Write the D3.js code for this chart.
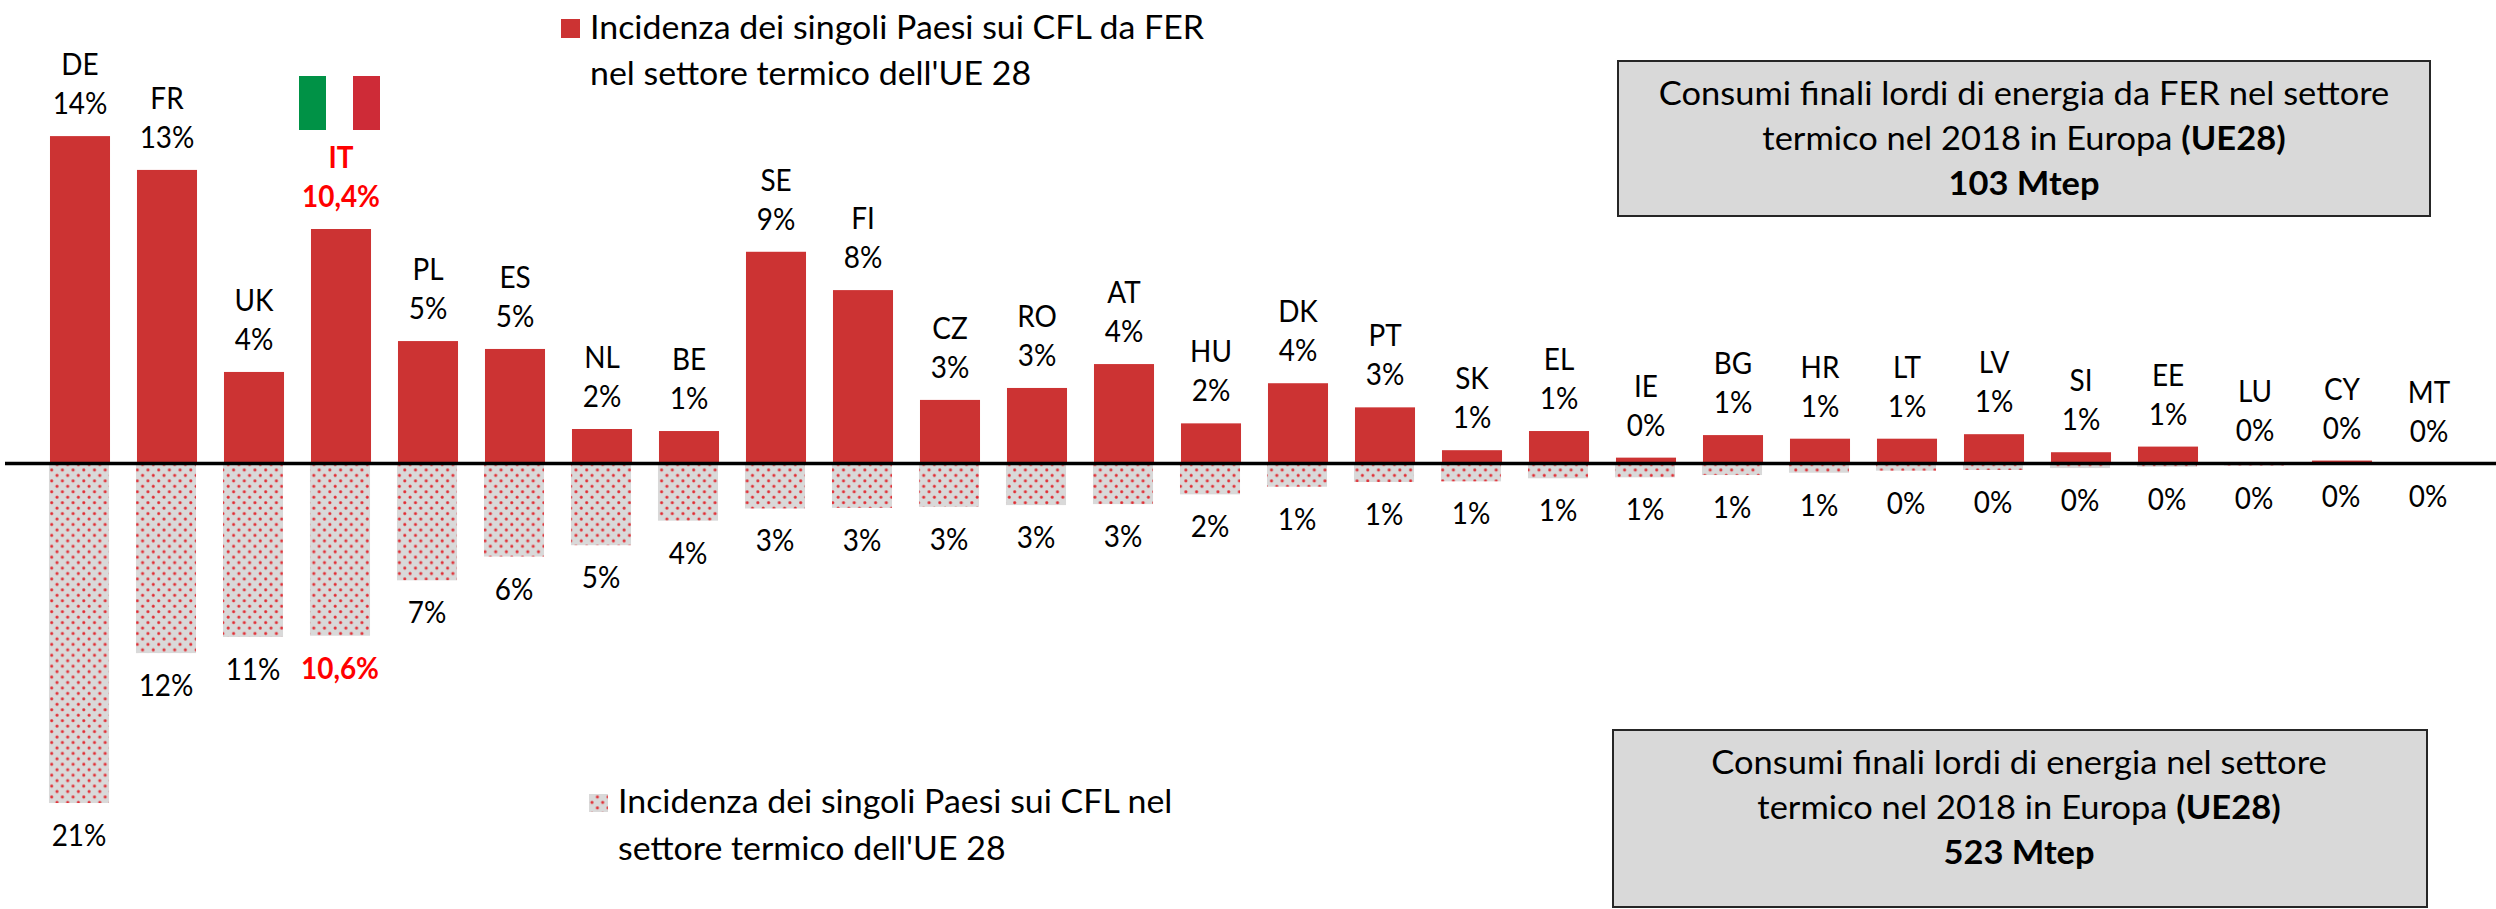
<!DOCTYPE html>
<html>
<head>
<meta charset="utf-8">
<script src="https://cdn.jsdelivr.net/npm/d3@7"></script>
<style>
  html, body { margin: 0; background: #fff; }
  svg { display: block; }
  text { font-family: Lato, "Open Sans", sans-serif; fill: #000; }
</style>
</head>
<body>
<div id="canvas-svg"></div>
<script>
// values, % share of each country
var countries = ["DE","FR","UK","IT","PL","ES","NL","BE","SE","FI","CZ","RO","AT","HU","DK","PT","SK","EL","IE","BG","HR","LT","LV","SI","EE","LU","CY","MT"];
var ferValues = [14.52,13.02,4.06,10.4,5.43,5.08,1.53,1.44,9.39,7.69,2.82,3.35,4.41,1.78,3.56,2.49,0.59,1.44,0.26,1.26,1.1,1.1,1.3,0.5,0.75,0.03,0.13,0];
var cflValues = [20.9,11.67,10.68,10.6,7.19,5.73,5.03,3.52,2.77,2.73,2.67,2.56,2.5,1.9,1.43,1.14,1.1,0.91,0.85,0.71,0.57,0.44,0.4,0.28,0.2,0.13,0.02,0];
var ferLabels = ["14%","13%","4%","10,4%","5%","5%","2%","1%","9%","8%","3%","3%","4%","2%","4%","3%","1%","1%","0%","1%","1%","1%","1%","1%","1%","0%","0%","0%"];
var cflLabels = ["21%","12%","11%","10,6%","7%","6%","5%","4%","3%","3%","3%","3%","3%","2%","1%","1%","1%","1%","1%","1%","1%","0%","0%","0%","0%","0%","0%","0%"];
var legendFer = ["Incidenza dei singoli Paesi sui CFL da FER", "nel settore termico dell'UE 28"];
var legendCfl = ["Incidenza dei singoli Paesi sui CFL nel", "settore termico dell'UE 28"];
var boxFer = ["Consumi finali lordi di energia da FER nel settore", "termico nel 2018 in Europa ", "(UE28)", "103 Mtep"];
var boxCfl = ["Consumi finali lordi di energia nel settore", "termico nel 2018 in Europa ", "(UE28)", "523 Mtep"];

var WIDTH = 2496, HEIGHT = 909;
var ZERO = 463.5;
// Lato has other proportions than the original font, so each kind of text gets its own squeeze
var LABEL = {size: 31, sx: 0.9};
var LEGEND = {size: 32, sx: 1.06};
var BOX = {size: 33, sx: 1.045};

var svg = d3.select("#canvas-svg").append("svg")
    .attr("width", WIDTH)
    .attr("height", HEIGHT);

var x = d3.scaleBand()
    .domain(countries)
    .range([36.5, 2472.5])
    .paddingInner(0.31)
    .paddingOuter(0.155);

// the two halves do not share a scale in the original
var yFer = d3.scaleLinear().domain([0, 10.4]).range([ZERO, 229]);
var yCfl = d3.scaleLinear().domain([0, 10.6]).range([ZERO, 635.7]);

//dotted fill
var defs = svg.append("defs");
var grad = defs.append("radialGradient").attr("id", "dot");
grad.append("stop").attr("offset", "0%").attr("stop-color", "#e0222c");
grad.append("stop").attr("offset", "45%").attr("stop-color", "#e0363c");
grad.append("stop").attr("offset", "100%").attr("stop-color", "#d9d9d9");

var pattern = defs.append("pattern")
    .attr("id", "dots")
    .attr("patternUnits", "userSpaceOnUse")
    .attr("width", 10.7)
    .attr("height", 10.9)
    .attr("patternTransform", "translate(49,467.3)");
pattern.append("rect").attr("width", 10.7).attr("height", 10.9).attr("fill", "#d9d9d9");
[[2.7, 2.7], [8, 8.15]].forEach(function(p) {
  pattern.append("circle")
      .attr("cx", p[0]).attr("cy", p[1]).attr("r", 2.1)
      .attr("fill", "url(#dot)");
});

function addText(parent, style, tx, ty, str, anchor) {
  return parent.append("text")
      .attr("transform", "translate(" + tx + "," + ty + ") scale(" + style.sx + ",1)")
      .attr("font-size", style.size)
      .attr("text-anchor", anchor || "middle")
      .text(str);
}

//bars
svg.append("g").selectAll("rect")
    .data(countries)
    .enter().append("rect")
    .attr("x", function(d) { return x(d); })
    .attr("width", x.bandwidth())
    .attr("y", function(d, i) { return yFer(ferValues[i]); })
    .attr("height", function(d, i) { return ZERO - yFer(ferValues[i]); })
    .attr("fill", "#cc3333");

svg.append("g").selectAll("rect")
    .data(countries)
    .enter().append("rect")
    .attr("x", function(d) { return x(d) - 1; })
    .attr("width", x.bandwidth())
    .attr("y", ZERO)
    .attr("height", function(d, i) { return yCfl(cflValues[i]) - ZERO; })
    .attr("fill", "url(#dots)");

svg.append("line")
    .attr("x1", 5).attr("x2", WIDTH)
    .attr("y1", ZERO).attr("y2", ZERO)
    .attr("stroke", "#000")
    .attr("stroke-width", 3.5);

//labels
var labels = svg.append("g");
countries.forEach(function(c, i) {
  var cx = x(c) + x.bandwidth() / 2;
  var top = yFer(ferValues[i]);
  var isIT = c === "IT";
  [addText(labels, LABEL, cx, top - 61, c), addText(labels, LABEL, cx, top - 22, ferLabels[i]),
   addText(labels, LABEL, cx - 1, yCfl(cflValues[i]) + 43, cflLabels[i])].forEach(function(t) {
    if (isIT) t.attr("font-weight", "bold").style("fill", "#ff0000");
  });
});

//flag
var flag = d3.scaleBand().domain(["#009246", "#ffffff", "#ce2b37"]).range([299, 380]);
svg.append("g").selectAll("rect")
    .data(flag.domain())
    .enter().append("rect")
    .attr("x", function(d) { return flag(d); })
    .attr("y", 76)
    .attr("width", flag.bandwidth())
    .attr("height", 54)
    .attr("fill", function(d) { return d; });

//legends
svg.append("rect").attr("x", 561).attr("y", 19).attr("width", 19).attr("height", 19).attr("fill", "#cc3333");
addText(svg, LEGEND, 590, 38.5, legendFer[0], "start");
addText(svg, LEGEND, 590, 85, legendFer[1], "start");

svg.append("rect").attr("x", 589).attr("y", 794).attr("width", 19).attr("height", 18).attr("fill", "url(#dots)");
addText(svg, LEGEND, 618, 813, legendCfl[0], "start");
addText(svg, LEGEND, 618, 860, legendCfl[1], "start");

//boxes
function infoBox(bx, by, bw, bh, cx, firstLine, lines) {
  svg.append("rect")
      .attr("x", bx).attr("y", by).attr("width", bw).attr("height", bh)
      .attr("fill", "#d9d9d9")
      .attr("stroke", "#262626")
      .attr("stroke-width", 2);
  addText(svg, BOX, cx, firstLine, lines[0]);
  var second = addText(svg, BOX, cx, firstLine + 45, lines[1]);
  second.append("tspan").attr("font-weight", "bold").text(lines[2]);
  addText(svg, BOX, cx, firstLine + 90, lines[3]).attr("font-weight", "bold");
}
infoBox(1618, 61, 812, 155, 2024, 105, boxFer);
infoBox(1613, 730, 814, 177, 2019, 774, boxCfl);
</script>
</body>
</html>
